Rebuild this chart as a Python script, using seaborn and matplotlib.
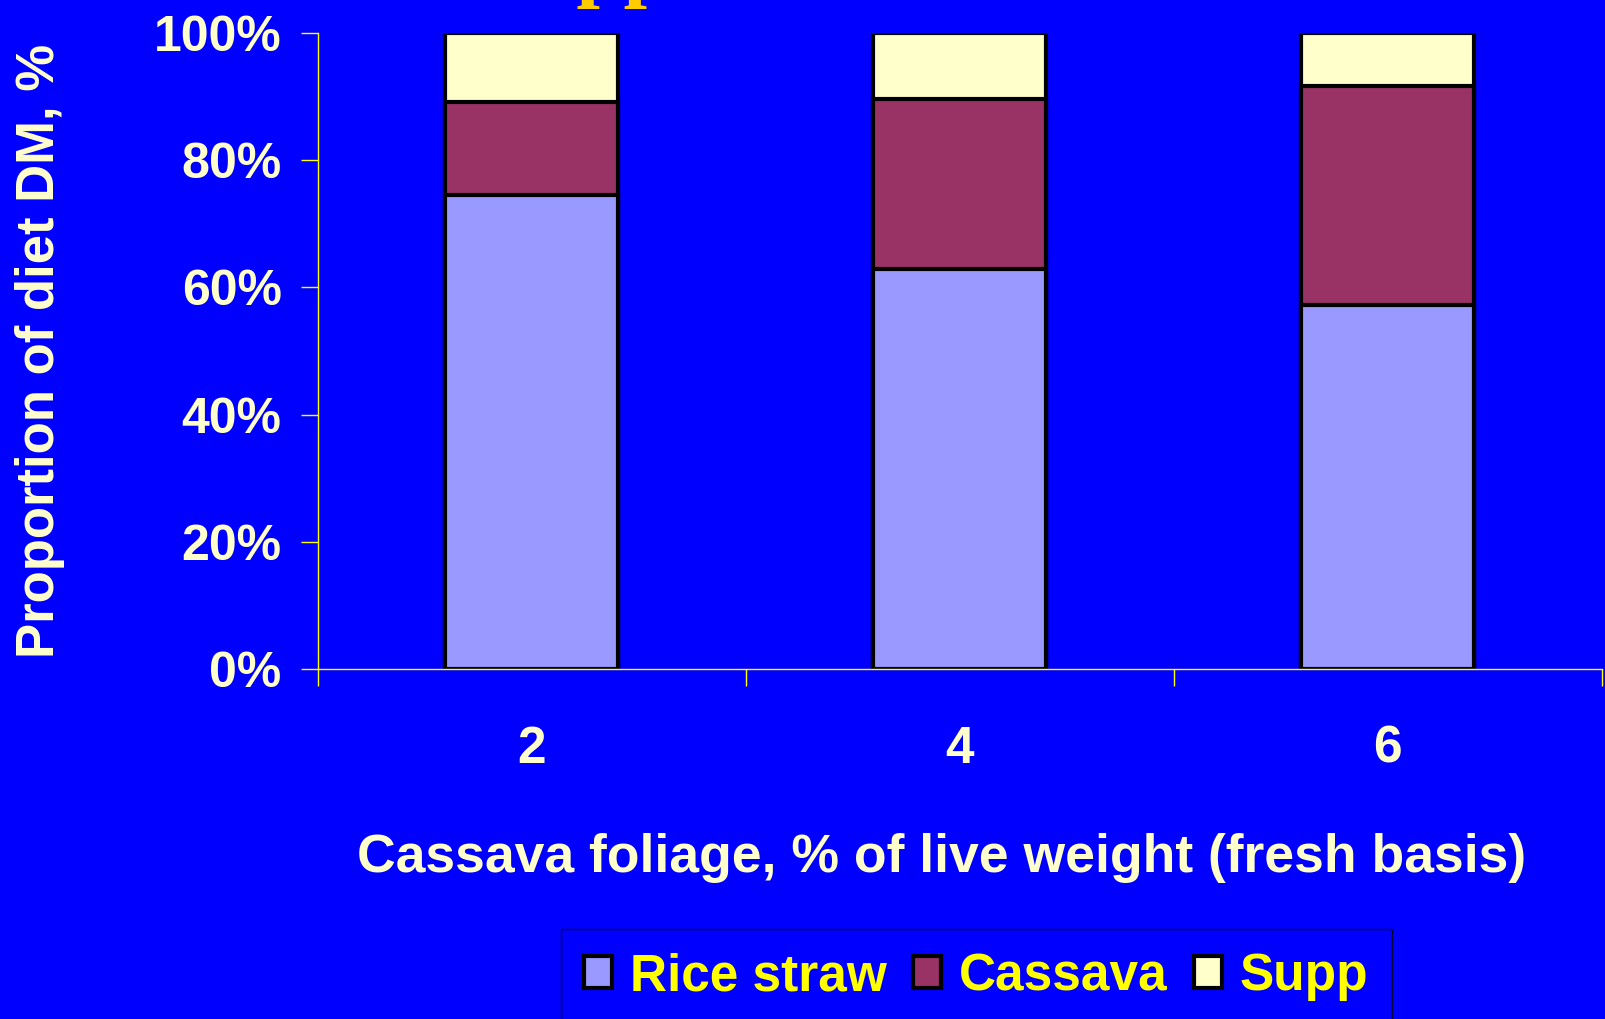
import matplotlib
matplotlib.use("Agg")
import matplotlib.pyplot as plt
import seaborn as sns
from matplotlib.patches import Patch

# data (percent of diet DM)
levels = ["2", "4", "6"]
rice_straw = [74.5, 62.9, 57.3]
cassava = [14.6, 26.8, 34.4]
supp = [10.9, 10.3, 8.3]

series = ["Rice straw", "Cassava", "Supp"]
colors = ["#9999FF", "#993366", "#FFFFCC"]

BG = "#0000FF"
CREAM = "#FFFFCC"
YELLOW = "#FFFF00"

sns.set_theme(style="white")
plt.rcParams["font.family"] = ["Liberation Sans", "DejaVu Sans"]
plt.rcParams["font.weight"] = "bold"

fig = plt.figure(figsize=(16.05, 10.19), dpi=100, facecolor=BG)
ax = fig.add_axes([0.198, 0.3435, 0.800, 0.6241])
ax.set_facecolor(BG)

# stacked bars: draw cumulative totals from the top down
cum_cass = [r + c for r, c in zip(rice_straw, cassava)]
cum_all = [r + c + s for r, c, s in zip(rice_straw, cassava, supp)]
for vals, col in zip([cum_all, cum_cass, rice_straw], colors[::-1]):
    sns.barplot(x=levels, y=vals, color=col, saturation=1, width=0.405,
                edgecolor="black", linewidth=3.0, errorbar=None, ax=ax)

ax.set_xlim(-0.5, 2.5)
ax.set_ylim(0, 100)
ax.set_yticks([0, 20, 40, 60, 80, 100])
ax.set_yticklabels([f"{v}%" for v in [0, 20, 40, 60, 80, 100]])

ax.set_xticks([-0.5, 0.5, 1.5, 2.5], minor=True)
ax.tick_params(axis="x", which="major", length=0, pad=40, labelsize=37,
               labelcolor=CREAM, bottom=True)
ax.tick_params(axis="x", which="minor", length=12, width=1.0, color=YELLOW,
               direction="out", bottom=True)
ax.tick_params(axis="y", which="major", length=12, width=1.0, color=YELLOW,
               direction="out", pad=14, labelsize=36, labelcolor=CREAM,
               left=True)

for side in ["top", "right"]:
    ax.spines[side].set_visible(False)
for side in ["left", "bottom"]:
    ax.spines[side].set_color(YELLOW)
    ax.spines[side].set_linewidth(1.0)

ax.set_xlabel("Cassava foliage, % of live weight (fresh basis)",
              fontsize=38.5, color=CREAM, fontweight="bold")
ax.xaxis.set_label_coords(0.486, -0.258)
ax.set_ylabel("Proportion of diet DM, %", fontsize=38, color=CREAM,
              fontweight="bold")
ax.yaxis.set_label_coords(-0.197, 0.5)

# clipped slide title above the chart
fig.text(482 / 1605, 1 + 9 / 1019, "Supplementation", fontsize=61,
         family=["Liberation Serif", "DejaVu Serif"], fontweight="bold",
         color="#FFCC00", ha="left", va="baseline")

handles = [Patch(facecolor=c, edgecolor="black", linewidth=3.0) for c in colors]
leg = fig.legend(handles, series, loc="upper left",
                 bbox_to_anchor=(561 / 1605, 1 - 929 / 1019), ncol=3,
                 fontsize=37, frameon=True, fancybox=False, borderaxespad=0,
                 handlelength=0.55, handleheight=0.6, handletextpad=0.35,
                 columnspacing=0.5, borderpad=0.45)
leg.get_frame().set_facecolor(BG)
leg.get_frame().set_edgecolor("black")
leg.get_frame().set_linewidth(1.0)
for t in leg.get_texts():
    t.set_color(YELLOW)

fig.savefig("out.png", dpi=100, facecolor=BG)
